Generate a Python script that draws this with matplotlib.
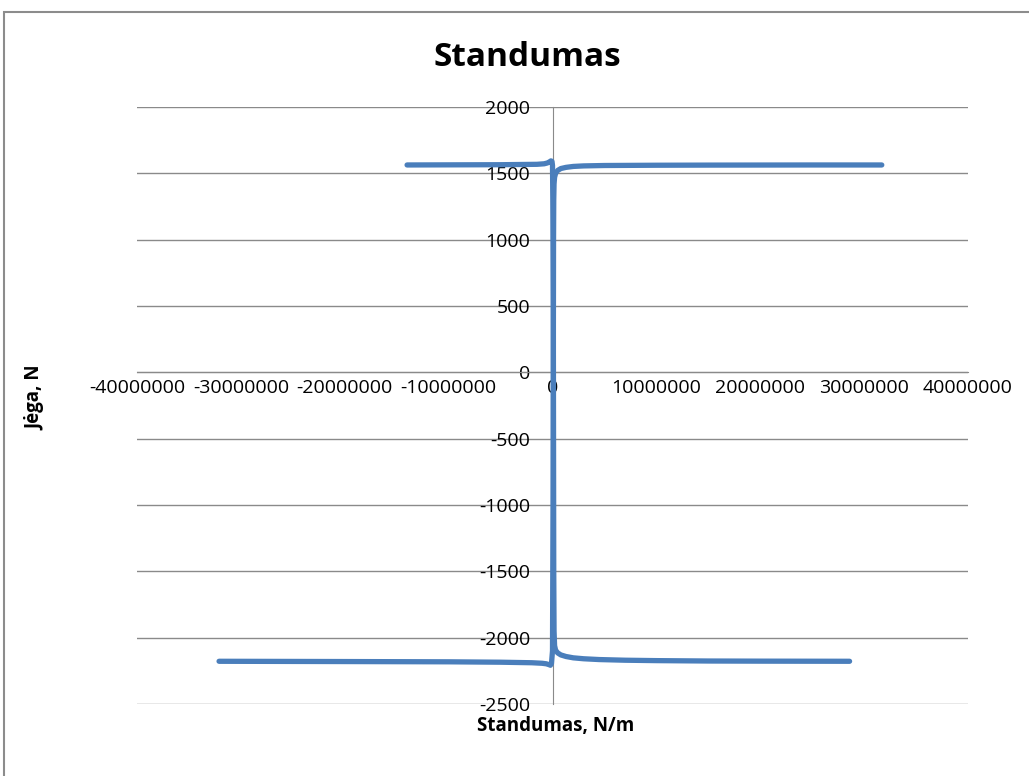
import matplotlib
matplotlib.use("Agg")
import matplotlib.pyplot as plt
from matplotlib.patches import Rectangle

plt.rcParams["font.family"] = ["Open Sans", "DejaVu Sans"]

# branch 1: upper-left -> down the spike -> lower-right
stiff_a = [-1.40e7, -5e6, -1.5e6, -8e5, -5e5, -3e5, -1.5e5, -5e4, 0, 3e4, 5e4,
           8e4, 1e5, 1.2e5, 1.5e5, 2e5, 3e5, 5e5, 8e5, 1.3e6, 2e6, 3e6,
           4.5e6, 7e6, 1e7, 1.5e7, 2e7, 2.86e7]
force_a = [1563, 1565, 1568, 1572, 1578, 1586, 1594, 1590, 1560, 1300, 1000,
           500, -500, -1500, -1950, -2060, -2095, -2115, -2130, -2142, -2152, -2159,
           -2165, -2170, -2173, -2176, -2177, -2178]

# branch 2: lower-left -> up the spike -> upper-right
stiff_b = [-3.21e7, -2e7, -1e7, -5e6, -2e6, -1e6, -6e5, -3.5e5, -2e5, -1e5, 0,
           5e4, 8e4, 1e5, 1.2e5, 1.5e5, 2e5, 3e5, 5e5, 8e5, 1.3e6, 2e6, 3e6,
           5e6, 1e7, 1.5e7, 2.5e7, 3.17e7]
force_b = [-2178, -2180, -2182, -2185, -2189, -2193, -2197, -2203, -2208, -2195, -2100,
           -1000, 0, 1000, 1300, 1420, 1470, 1500, 1522, 1536, 1545, 1552, 1556,
           1559, 1561, 1562, 1563, 1563]

x_ticks = [-40000000, -30000000, -20000000, -10000000, 0,
           10000000, 20000000, 30000000, 40000000]
y_ticks = [-2500, -2000, -1500, -1000, -500, 0, 500, 1000, 1500, 2000]

LINE = "#4a7ebb"
GRID = "#8a8a8a"

fig = plt.figure(figsize=(10.29, 7.76), dpi=100)
fig.patches.append(Rectangle((4 / 1029, -0.1), 1.2, 1.1 - 12 / 776,
                             transform=fig.transFigure, fill=False,
                             edgecolor="#8c8c8c", linewidth=1.5))

ax = fig.add_axes([137 / 1029, 72 / 776, 831 / 1029, 597 / 776])
ax.plot(stiff_a, force_a, color=LINE, linewidth=3.8, solid_capstyle="round",
        solid_joinstyle="round", zorder=3)
ax.plot(stiff_b, force_b, color=LINE, linewidth=3.8, solid_capstyle="round",
        solid_joinstyle="round", zorder=3)

ax.set_xlim(-4e7, 4e7)
ax.set_ylim(-2500, 2000)
ax.set_xticks(x_ticks)
ax.set_xticklabels([str(v) for v in x_ticks])
ax.set_yticks(y_ticks)
ax.set_yticklabels([str(v) for v in y_ticks])

for y in y_ticks:
    ax.axhline(y, color=GRID, linewidth=1, zorder=1)

ax.spines["left"].set_position(("data", 0))
ax.spines["bottom"].set_position(("data", 0))
ax.spines["top"].set_visible(False)
ax.spines["right"].set_visible(False)
ax.spines["left"].set_color(GRID)
ax.spines["bottom"].set_color(GRID)
ax.spines["left"].set_zorder(2)
ax.tick_params(axis="both", length=0, labelsize=14, colors="#000000")
ax.tick_params(axis="y", pad=16)
ax.tick_params(axis="x", pad=5)

fig.text(0.512, 0.926, "Standumas", ha="center", va="center",
         fontsize=24, fontweight="bold")
fig.text(0.034, 0.488, "Jėga, N", ha="center", va="center", rotation=90,
         fontsize=13.5, fontweight="bold")
fig.text(0.54, 0.064, "Standumas, N/m", ha="center", va="center",
         fontsize=13.5, fontweight="bold")

fig.savefig("out.png", dpi=100)
